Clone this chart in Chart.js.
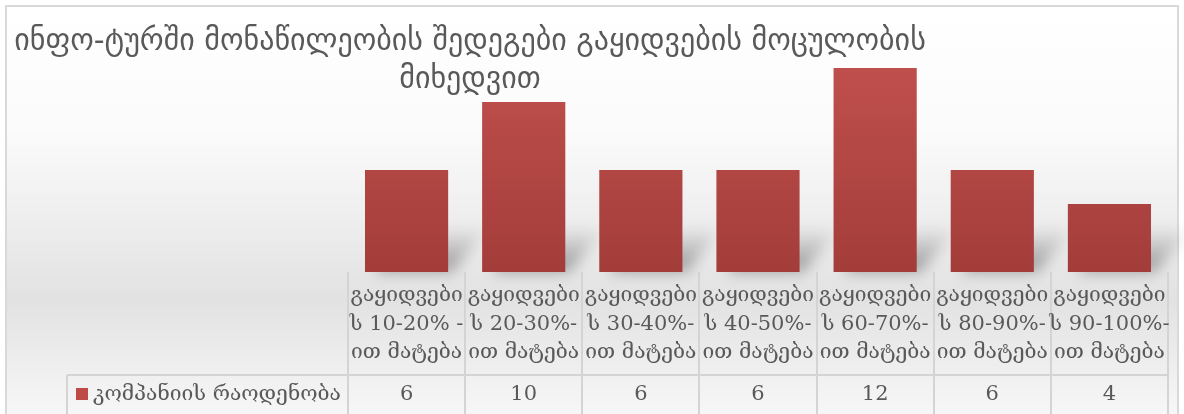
<!DOCTYPE html>
<html>
<head>
<meta charset="utf-8">
<script src="https://cdn.jsdelivr.net/npm/chart.js@4"></script>
<style>
  html, body { margin: 0; padding: 0; background: #fff; }
  #wrap { width: 1184px; height: 414px; }
</style>
</head>
<body>
<div id="wrap"><canvas id="salesChart" width="1184" height="414"></canvas></div>
<script>
const titleLines = ['ინფო-ტურში მონაწილეობის შედეგები გაყიდვების მოცულობის', 'მიხედვით'];
const categories = [
    ['გაყიდვები', 'ს 10-20% -', 'ით მატება'],
    ['გაყიდვები', 'ს 20-30%-', 'ით მატება'],
    ['გაყიდვები', 'ს 30-40%-', 'ით მატება'],
    ['გაყიდვები', 'ს 40-50%-', 'ით მატება'],
    ['გაყიდვები', 'ს 60-70%-', 'ით მატება'],
    ['გაყიდვები', 'ს 80-90%-', 'ით მატება'],
    ['გაყიდვები', 'ს 90-100%-', 'ით მატება']
];
const seriesName = 'კომპანიის რაოდენობა';
const companyCounts = [6, 10, 6, 6, 12, 6, 4];

const textColor = '#595959';
const gridColor = '#d4d4d4';
const tableFont = '21px "DejaVu Serif", "Liberation Serif", serif';

// background, frame, shadows, title and data table
const tablePlugin = {
    id: 'dataTable',
    beforeDraw(chart) {
        const ctx = chart.ctx;
        ctx.save();
        ctx.fillStyle = '#ffffff';
        ctx.fillRect(0, 0, chart.width, chart.height);
        const g = ctx.createLinearGradient(0, 6, 0, chart.height);
        g.addColorStop(0, '#ffffff');
        g.addColorStop(0.3, '#fbfbfb');
        g.addColorStop(0.72, '#e2e2e2');
        g.addColorStop(1, '#f7f7f7');
        ctx.fillStyle = g;
        ctx.fillRect(6, 6, chart.width - 12, chart.height - 6);
        ctx.strokeStyle = '#d9d9d9';
        ctx.lineWidth = 2;
        ctx.strokeRect(6, 6, chart.width - 12, chart.height + 10);
        ctx.restore();
    },
    beforeDatasetsDraw(chart) {
        const ctx = chart.ctx;
        const meta = chart.getDatasetMeta(0);
        ctx.save();
        ctx.filter = 'blur(7px)';
        meta.data.forEach(bar => {
            const left = bar.x - bar.width / 2;
            const right = bar.x + bar.width / 2;
            const base = bar.base;
            const sg = ctx.createLinearGradient(0, base, 0, base - 45);
            sg.addColorStop(0, 'rgba(0,0,0,0.35)');
            sg.addColorStop(1, 'rgba(0,0,0,0)');
            ctx.fillStyle = sg;
            ctx.beginPath();
            ctx.moveTo(left + 10, base);
            ctx.lineTo(right + 4, base);
            ctx.lineTo(right + 40, base - 45);
            ctx.lineTo(left + 40, base - 45);
            ctx.closePath();
            ctx.fill();
        });
        ctx.restore();
    },
    afterDraw(chart) {
        const ctx = chart.ctx;
        const xs = chart.scales.x;
        const area = chart.chartArea;
        const n = categories.length;
        const colW = (area.right - area.left) / n;
        const rowTop = area.bottom;
        const rowSplit = 375;
        const legendLeft = 67;

        ctx.save();
        // grid lines
        ctx.strokeStyle = gridColor;
        ctx.lineWidth = 2;
        ctx.beginPath();
        for (let i = 0; i <= n; i++) {
            const x = Math.round(area.left + i * colW);
            ctx.moveTo(x, rowTop);
            ctx.lineTo(x, chart.height);
        }
        ctx.moveTo(legendLeft, rowSplit);
        ctx.lineTo(area.right, rowSplit);
        ctx.moveTo(legendLeft, rowSplit);
        ctx.lineTo(legendLeft, chart.height);
        ctx.stroke();

        // category labels + values
        ctx.fillStyle = textColor;
        ctx.font = tableFont;
        ctx.textAlign = 'center';
        ctx.textBaseline = 'middle';
        categories.forEach((lines, i) => {
            const cx = xs.getPixelForValue(i);
            lines.forEach((line, k) => {
                ctx.fillText(line, cx, 296 + k * 28.5);
            });
            ctx.fillText(String(companyCounts[i]), cx, 395);
        });

        // legend cell
        ctx.fillStyle = '#be4b48';
        ctx.fillRect(76, 388, 12, 12);
        ctx.fillStyle = textColor;
        ctx.textAlign = 'left';
        ctx.fillText(seriesName, 93, 395);

        // title
        ctx.font = '30px "DejaVu Sans", "Noto Sans", sans-serif';
        ctx.textAlign = 'center';
        titleLines.forEach((line, k) => {
            ctx.fillText(line, 470, 42 + k * 38);
        });
        ctx.restore();
    }
};

const ctx = document.getElementById('salesChart').getContext('2d');
const salesChart = new Chart(ctx, {
    type: 'bar',
    data: {
        labels: categories,
        datasets: [{
            label: seriesName,
            data: companyCounts,
            backgroundColor: (c) => {
                const a = c.chart.chartArea;
                if (!a) return '#b5474480';
                const g = c.chart.ctx.createLinearGradient(0, a.top, 0, a.bottom);
                g.addColorStop(0, '#c4524f');
                g.addColorStop(1, '#a33d3a');
                return g;
            },
            borderWidth: 0,
            barPercentage: 0.71,
            categoryPercentage: 1
        }]
    },
    options: {
        responsive: false,
        animation: false,
        layout: { padding: { left: 348, right: 16, top: 34, bottom: 142 } },
        plugins: {
            legend: { display: false },
            title: { display: false },
            tooltip: { enabled: false }
        },
        scales: {
            x: { display: false, grid: { display: false } },
            y: { display: false, min: 0, max: 14 }
        }
    },
    plugins: [tablePlugin]
});
</script>
</body>
</html>
